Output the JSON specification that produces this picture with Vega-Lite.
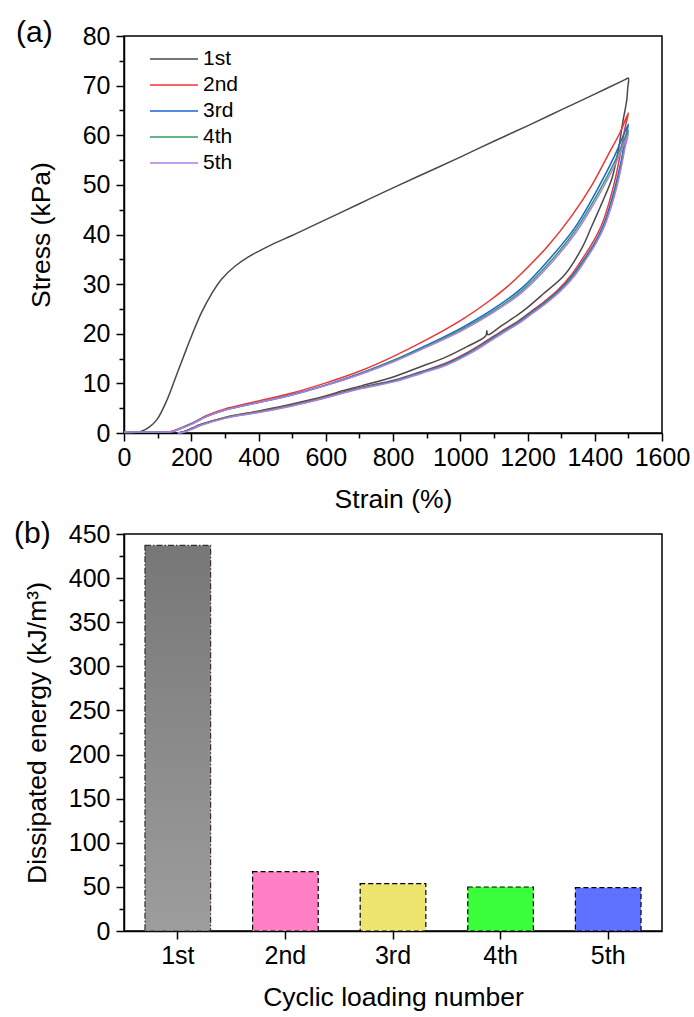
{
"$schema": "https://vega.github.io/schema/vega-lite/v6.json",
"padding": {"left": 13, "top": 17, "right": 5, "bottom": 2},
"bounds": "flush",
"spacing": 101,
"config": {
  "font": "Liberation Sans",
  "view": {"stroke": "black", "strokeWidth": 1.5},
  "axis": {"domainColor": "black", "domainWidth": 1.5, "tickColor": "black", "tickWidth": 1.5, "labelColor": "black", "titleColor": "black", "labelFontSize": 25, "titleFontSize": 26.5, "titleFontWeight": "normal", "labelPadding": 6, "grid": false, "labelFlush": false, "labelOverlap": false, "labelFont": "Liberation Sans", "titleFont": "Liberation Sans"},
  "axisX": {"labelPadding": 4}
},
"vconcat": [
{
  "width": 538, "height": 397,
  "title": {"text": "(a)", "anchor": "start", "frame": "group", "orient": "top", "offset": -24, "dx": -108, "fontSize": 30, "fontWeight": "normal", "font": "Liberation Sans", "color": "black"},
  "data": {"values": [
{"c":"1st","i":0,"s":0,"p":0},{"c":"1st","i":1,"s":30,"p":0.1},{"c":"1st","i":2,"s":50,"p":0.3},{"c":"1st","i":3,"s":75,"p":1.2},{"c":"1st","i":4,"s":99,"p":2.8},{"c":"1st","i":5,"s":130,"p":7},{"c":"1st","i":6,"s":159,"p":12.2},{"c":"1st","i":7,"s":185,"p":16.8},{"c":"1st","i":8,"s":200,"p":19.4},{"c":"1st","i":9,"s":230,"p":24.2},{"c":"1st","i":10,"s":260,"p":28},{"c":"1st","i":11,"s":290,"p":31},{"c":"1st","i":12,"s":330,"p":33.6},{"c":"1st","i":13,"s":370,"p":35.5},{"c":"1st","i":14,"s":400,"p":36.6},{"c":"1st","i":15,"s":450,"p":38.3},{"c":"1st","i":16,"s":500,"p":39.8},{"c":"1st","i":17,"s":600,"p":43},{"c":"1st","i":18,"s":700,"p":46.2},{"c":"1st","i":19,"s":800,"p":49.4},{"c":"1st","i":20,"s":900,"p":52.5},{"c":"1st","i":21,"s":1000,"p":55.6},{"c":"1st","i":22,"s":1100,"p":58.8},{"c":"1st","i":23,"s":1200,"p":61.9},{"c":"1st","i":24,"s":1300,"p":65.1},{"c":"1st","i":25,"s":1400,"p":68.3},{"c":"1st","i":26,"s":1490,"p":71.2},{"c":"1st","i":27,"s":1500,"p":71.5},
{"c":"1st","i":28,"s":1498,"p":69.5},{"c":"1st","i":29,"s":1495,"p":67},{"c":"1st","i":30,"s":1484,"p":62.9},{"c":"1st","i":31,"s":1470,"p":57},{"c":"1st","i":32,"s":1452,"p":51.5},{"c":"1st","i":33,"s":1432,"p":48},{"c":"1st","i":34,"s":1416,"p":45.5},{"c":"1st","i":35,"s":1390,"p":41.5},{"c":"1st","i":36,"s":1362,"p":37.3},{"c":"1st","i":37,"s":1312,"p":32},{"c":"1st","i":38,"s":1243,"p":27.8},{"c":"1st","i":39,"s":1193,"p":24.9},{"c":"1st","i":40,"s":1173,"p":23.9},{"c":"1st","i":41,"s":1120,"p":21.5},{"c":"1st","i":42,"s":1082,"p":19.8},{"c":"1st","i":43,"s":1079,"p":20.6},{"c":"1st","i":44,"s":1076,"p":19.6},{"c":"1st","i":45,"s":1020,"p":17.4},{"c":"1st","i":46,"s":954,"p":15.2},{"c":"1st","i":47,"s":880,"p":13.3},{"c":"1st","i":48,"s":805,"p":11.4},{"c":"1st","i":49,"s":706,"p":9.5},{"c":"1st","i":50,"s":650,"p":8.5},{"c":"1st","i":51,"s":596,"p":7.4},{"c":"1st","i":52,"s":497,"p":5.8},{"c":"1st","i":53,"s":397,"p":4.4},{"c":"1st","i":54,"s":298,"p":3.1},{"c":"1st","i":55,"s":228,"p":1.7},{"c":"1st","i":56,"s":200,"p":0.9},{"c":"1st","i":57,"s":174,"p":0.2},{"c":"1st","i":58,"s":160,"p":0},
{"c":"2nd","i":0,"s":0,"p":0.2},{"c":"2nd","i":1,"s":50,"p":0.2},{"c":"2nd","i":2,"s":100,"p":0.2},{"c":"2nd","i":3,"s":140,"p":0.3},{"c":"2nd","i":4,"s":160,"p":0.8},{"c":"2nd","i":5,"s":199,"p":1.9},{"c":"2nd","i":6,"s":248,"p":3.6},{"c":"2nd","i":7,"s":298,"p":4.8},{"c":"2nd","i":8,"s":397,"p":6.4},{"c":"2nd","i":9,"s":497,"p":8},{"c":"2nd","i":10,"s":596,"p":10},{"c":"2nd","i":11,"s":706,"p":12.6},{"c":"2nd","i":12,"s":800,"p":15.4},{"c":"2nd","i":13,"s":900,"p":18.8},{"c":"2nd","i":14,"s":1004,"p":22.8},{"c":"2nd","i":15,"s":1084,"p":26.5},{"c":"2nd","i":16,"s":1140,"p":29.5},{"c":"2nd","i":17,"s":1183,"p":32.2},{"c":"2nd","i":18,"s":1262,"p":37.8},{"c":"2nd","i":19,"s":1332,"p":43.8},{"c":"2nd","i":20,"s":1392,"p":50},{"c":"2nd","i":21,"s":1441,"p":56.2},{"c":"2nd","i":22,"s":1475,"p":60.5},{"c":"2nd","i":23,"s":1500,"p":64.5},
{"c":"2nd","i":24,"s":1490,"p":61.5},{"c":"2nd","i":25,"s":1478,"p":57},{"c":"2nd","i":26,"s":1462,"p":51.5},{"c":"2nd","i":27,"s":1445,"p":47},{"c":"2nd","i":28,"s":1421,"p":42},{"c":"2nd","i":29,"s":1395,"p":38.5},{"c":"2nd","i":30,"s":1367,"p":35.5},{"c":"2nd","i":31,"s":1332,"p":32},{"c":"2nd","i":32,"s":1290,"p":28.8},{"c":"2nd","i":33,"s":1250,"p":26.5},{"c":"2nd","i":34,"s":1213,"p":24.6},{"c":"2nd","i":35,"s":1173,"p":22.6},{"c":"2nd","i":36,"s":1120,"p":20.4},{"c":"2nd","i":37,"s":1074,"p":18.4},{"c":"2nd","i":38,"s":1020,"p":16.2},{"c":"2nd","i":39,"s":954,"p":14},{"c":"2nd","i":40,"s":880,"p":12.3},{"c":"2nd","i":41,"s":805,"p":10.7},{"c":"2nd","i":42,"s":706,"p":9.2},{"c":"2nd","i":43,"s":650,"p":8.2},{"c":"2nd","i":44,"s":596,"p":7.2},{"c":"2nd","i":45,"s":497,"p":5.6},{"c":"2nd","i":46,"s":397,"p":4.3},{"c":"2nd","i":47,"s":298,"p":3.1},{"c":"2nd","i":48,"s":228,"p":1.7},{"c":"2nd","i":49,"s":200,"p":0.9},{"c":"2nd","i":50,"s":174,"p":0.2},{"c":"2nd","i":51,"s":160,"p":0},
{"c":"3rd","i":0,"s":0,"p":0.2},{"c":"3rd","i":1,"s":50,"p":0.2},{"c":"3rd","i":2,"s":100,"p":0.2},{"c":"3rd","i":3,"s":145,"p":0.3},{"c":"3rd","i":4,"s":165,"p":0.8},{"c":"3rd","i":5,"s":199,"p":1.8},{"c":"3rd","i":6,"s":248,"p":3.4},{"c":"3rd","i":7,"s":298,"p":4.6},{"c":"3rd","i":8,"s":397,"p":6.1},{"c":"3rd","i":9,"s":497,"p":7.7},{"c":"3rd","i":10,"s":596,"p":9.6},{"c":"3rd","i":11,"s":706,"p":12.1},{"c":"3rd","i":12,"s":800,"p":14.6},{"c":"3rd","i":13,"s":900,"p":17.7},{"c":"3rd","i":14,"s":1004,"p":21.2},{"c":"3rd","i":15,"s":1094,"p":24.8},{"c":"3rd","i":16,"s":1183,"p":29.2},{"c":"3rd","i":17,"s":1262,"p":34.8},{"c":"3rd","i":18,"s":1342,"p":41.5},{"c":"3rd","i":19,"s":1411,"p":49.5},{"c":"3rd","i":20,"s":1460,"p":56},{"c":"3rd","i":21,"s":1500,"p":62.2},
{"c":"3rd","i":22,"s":1490,"p":59.2},{"c":"3rd","i":23,"s":1479,"p":55},{"c":"3rd","i":24,"s":1464,"p":50.5},{"c":"3rd","i":25,"s":1447,"p":46.2},{"c":"3rd","i":26,"s":1424,"p":41.6},{"c":"3rd","i":27,"s":1398,"p":38.1},{"c":"3rd","i":28,"s":1370,"p":35.2},{"c":"3rd","i":29,"s":1335,"p":31.8},{"c":"3rd","i":30,"s":1293,"p":28.7},{"c":"3rd","i":31,"s":1253,"p":26.4},{"c":"3rd","i":32,"s":1215,"p":24.5},{"c":"3rd","i":33,"s":1175,"p":22.5},{"c":"3rd","i":34,"s":1122,"p":20.3},{"c":"3rd","i":35,"s":1076,"p":18.3},{"c":"3rd","i":36,"s":1022,"p":16.1},{"c":"3rd","i":37,"s":956,"p":13.9},{"c":"3rd","i":38,"s":880,"p":12.2},{"c":"3rd","i":39,"s":805,"p":10.6},{"c":"3rd","i":40,"s":706,"p":9.1},{"c":"3rd","i":41,"s":650,"p":8.1},{"c":"3rd","i":42,"s":596,"p":7.1},{"c":"3rd","i":43,"s":497,"p":5.5},{"c":"3rd","i":44,"s":397,"p":4.2},{"c":"3rd","i":45,"s":298,"p":3},{"c":"3rd","i":46,"s":228,"p":1.6},{"c":"3rd","i":47,"s":200,"p":0.8},{"c":"3rd","i":48,"s":176,"p":0.2},{"c":"3rd","i":49,"s":160,"p":0},
{"c":"4th","i":0,"s":0,"p":0.2},{"c":"4th","i":1,"s":50,"p":0.2},{"c":"4th","i":2,"s":100,"p":0.2},{"c":"4th","i":3,"s":145,"p":0.3},{"c":"4th","i":4,"s":165,"p":0.8},{"c":"4th","i":5,"s":199,"p":1.8},{"c":"4th","i":6,"s":248,"p":3.4},{"c":"4th","i":7,"s":298,"p":4.6},{"c":"4th","i":8,"s":397,"p":6.1},{"c":"4th","i":9,"s":497,"p":7.6},{"c":"4th","i":10,"s":596,"p":9.5},{"c":"4th","i":11,"s":706,"p":12},{"c":"4th","i":12,"s":800,"p":14.5},{"c":"4th","i":13,"s":900,"p":17.5},{"c":"4th","i":14,"s":1004,"p":20.9},{"c":"4th","i":15,"s":1094,"p":24.4},{"c":"4th","i":16,"s":1183,"p":28.7},{"c":"4th","i":17,"s":1262,"p":34.1},{"c":"4th","i":18,"s":1342,"p":40.8},{"c":"4th","i":19,"s":1411,"p":48.5},{"c":"4th","i":20,"s":1460,"p":54.8},{"c":"4th","i":21,"s":1500,"p":61},
{"c":"4th","i":22,"s":1490,"p":58.2},{"c":"4th","i":23,"s":1480,"p":54.5},{"c":"4th","i":24,"s":1466,"p":50.2},{"c":"4th","i":25,"s":1449,"p":46},{"c":"4th","i":26,"s":1426,"p":41.5},{"c":"4th","i":27,"s":1400,"p":38},{"c":"4th","i":28,"s":1372,"p":35.1},{"c":"4th","i":29,"s":1337,"p":31.7},{"c":"4th","i":30,"s":1295,"p":28.6},{"c":"4th","i":31,"s":1255,"p":26.3},{"c":"4th","i":32,"s":1217,"p":24.4},{"c":"4th","i":33,"s":1177,"p":22.4},{"c":"4th","i":34,"s":1124,"p":20.2},{"c":"4th","i":35,"s":1078,"p":18.2},{"c":"4th","i":36,"s":1024,"p":16},{"c":"4th","i":37,"s":958,"p":13.8},{"c":"4th","i":38,"s":882,"p":12.1},{"c":"4th","i":39,"s":807,"p":10.5},{"c":"4th","i":40,"s":708,"p":9.1},{"c":"4th","i":41,"s":650,"p":8.1},{"c":"4th","i":42,"s":596,"p":7.1},{"c":"4th","i":43,"s":497,"p":5.5},{"c":"4th","i":44,"s":397,"p":4.2},{"c":"4th","i":45,"s":298,"p":3},{"c":"4th","i":46,"s":228,"p":1.6},{"c":"4th","i":47,"s":200,"p":0.8},{"c":"4th","i":48,"s":176,"p":0.2},{"c":"4th","i":49,"s":160,"p":0},
{"c":"5th","i":0,"s":0,"p":0.2},{"c":"5th","i":1,"s":50,"p":0.2},{"c":"5th","i":2,"s":100,"p":0.2},{"c":"5th","i":3,"s":145,"p":0.3},{"c":"5th","i":4,"s":165,"p":0.8},{"c":"5th","i":5,"s":199,"p":1.7},{"c":"5th","i":6,"s":248,"p":3.4},{"c":"5th","i":7,"s":298,"p":4.6},{"c":"5th","i":8,"s":397,"p":6.1},{"c":"5th","i":9,"s":497,"p":7.6},{"c":"5th","i":10,"s":596,"p":9.5},{"c":"5th","i":11,"s":706,"p":11.9},{"c":"5th","i":12,"s":800,"p":14.3},{"c":"5th","i":13,"s":900,"p":17.3},{"c":"5th","i":14,"s":1004,"p":20.6},{"c":"5th","i":15,"s":1094,"p":24.1},{"c":"5th","i":16,"s":1183,"p":28.3},{"c":"5th","i":17,"s":1262,"p":33.6},{"c":"5th","i":18,"s":1342,"p":40.2},{"c":"5th","i":19,"s":1411,"p":47.8},{"c":"5th","i":20,"s":1460,"p":54},{"c":"5th","i":21,"s":1500,"p":60.3},
{"c":"5th","i":22,"s":1491,"p":57.8},{"c":"5th","i":23,"s":1481,"p":54.3},{"c":"5th","i":24,"s":1468,"p":50.2},{"c":"5th","i":25,"s":1451,"p":46},{"c":"5th","i":26,"s":1428,"p":41.5},{"c":"5th","i":27,"s":1402,"p":38},{"c":"5th","i":28,"s":1374,"p":35},{"c":"5th","i":29,"s":1339,"p":31.6},{"c":"5th","i":30,"s":1297,"p":28.5},{"c":"5th","i":31,"s":1257,"p":26.2},{"c":"5th","i":32,"s":1219,"p":24.3},{"c":"5th","i":33,"s":1179,"p":22.3},{"c":"5th","i":34,"s":1126,"p":20.1},{"c":"5th","i":35,"s":1080,"p":18.1},{"c":"5th","i":36,"s":1026,"p":15.9},{"c":"5th","i":37,"s":960,"p":13.7},{"c":"5th","i":38,"s":884,"p":12},{"c":"5th","i":39,"s":809,"p":10.4},{"c":"5th","i":40,"s":710,"p":9},{"c":"5th","i":41,"s":650,"p":8},{"c":"5th","i":42,"s":596,"p":7},{"c":"5th","i":43,"s":497,"p":5.4},{"c":"5th","i":44,"s":397,"p":4.1},{"c":"5th","i":45,"s":298,"p":2.9},{"c":"5th","i":46,"s":228,"p":1.5},{"c":"5th","i":47,"s":200,"p":0.7},{"c":"5th","i":48,"s":176,"p":0.1},{"c":"5th","i":49,"s":160,"p":0}
  ]},
  "mark": {"type": "line", "strokeJoin": "round", "interpolate": "catmull-rom"},
  "encoding": {
    "x": {"field": "s", "type": "quantitative", "scale": {"domain": [0, 1600], "nice": false},
      "axis": {"title": "Strain (%)", "format": "d", "values": [0,100,200,300,400,500,600,700,800,900,1000,1100,1200,1300,1400,1500,1600], "labelExpr": "datum.value % 200 === 0 ? datum.label : ''", "tickSize": {"condition": {"test": "datum.value % 200 !== 0", "value": 5}, "value": 8}, "titlePadding": 16}},
    "y": {"field": "p", "type": "quantitative", "scale": {"domain": [0, 80], "nice": false},
      "axis": {"title": "Stress (kPa)", "values": [0,5,10,15,20,25,30,35,40,45,50,55,60,65,70,75,80], "labelExpr": "datum.value % 10 === 0 ? datum.label : ''", "tickSize": {"condition": {"test": "datum.value % 10 !== 0", "value": 5}, "value": 8}, "titlePadding": 27}},
    "color": {"field": "c", "type": "nominal", "scale": {"domain": ["1st","2nd","3rd","4th","5th"], "range": ["#4a4a4a","#ef3535","#1b63d9","#2f9e5c","#ae7ee3"]},
      "legend": {"title": null, "orient": "none", "legendX": 25, "legendY": 11, "rowPadding": 2, "clipHeight": 24, "symbolType": "stroke", "symbolSize": 2304, "symbolStrokeWidth": 1.5, "labelFontSize": 21, "labelFont": "Liberation Sans", "labelColor": "black"}},
    "strokeWidth": {"field": "c", "type": "ordinal", "scale": {"domain": ["1st","2nd","3rd","4th","5th"], "range": [1.5,1.5,1.5,1.5,2.5]}, "legend": null},
    "order": {"field": "i", "type": "quantitative"}
  }
},
{
  "width": 538, "height": 397,
  "title": {"text": "(b)", "anchor": "start", "frame": "group", "orient": "top", "offset": -27, "dx": -110, "fontSize": 30, "fontWeight": "normal", "font": "Liberation Sans", "color": "black"},
  "data": {"values": [
    {"n": "1st", "e": 437},
    {"n": "2nd", "e": 67.3},
    {"n": "3rd", "e": 53.7},
    {"n": "4th", "e": 49.9},
    {"n": "5th", "e": 49.1}
  ]},
  "encoding": {
    "x": {"field": "n", "type": "nominal", "scale": {"domain": ["1st","2nd","3rd","4th","5th"], "paddingInner": 0.39, "paddingOuter": 0.195},
      "axis": {"title": "Cyclic loading number", "labelAngle": 0, "tickSize": 8, "titlePadding": 16}},
    "y": {"field": "e", "type": "quantitative", "scale": {"domain": [0, 450], "nice": false},
      "axis": {"title": "Dissipated energy (kJ/m³)", "values": [0,25,50,75,100,125,150,175,200,225,250,275,300,325,350,375,400,425,450], "labelExpr": "datum.value % 50 === 0 ? datum.label : ''", "tickSize": {"condition": {"test": "datum.value % 50 !== 0", "value": 5}, "value": 8}, "titlePadding": 17}}
  },
  "layer": [
    {"transform": [{"filter": "datum.n === '1st'"}],
     "mark": {"type": "bar", "fill": {"gradient": "linear", "x1": 0, "y1": 0, "x2": 0, "y2": 1, "stops": [{"offset": 0, "color": "#777777"}, {"offset": 1, "color": "#9d9d9d"}]}, "fillOpacity": 1, "stroke": "#3b2b2b", "strokeWidth": 1.2, "strokeDash": [6, 2, 1.5, 2]}},
    {"transform": [{"filter": "datum.n !== '1st'"}],
     "mark": {"type": "bar", "stroke": "black", "strokeWidth": 1.2, "strokeDash": [5, 3], "fillOpacity": 1},
     "encoding": {"fill": {"field": "n", "type": "nominal", "scale": {"domain": ["2nd","3rd","4th","5th"], "range": ["#ff80c4","#ede570","#3cff3c","#5f72ff"]}, "legend": null}}}
  ]
}
]
}
